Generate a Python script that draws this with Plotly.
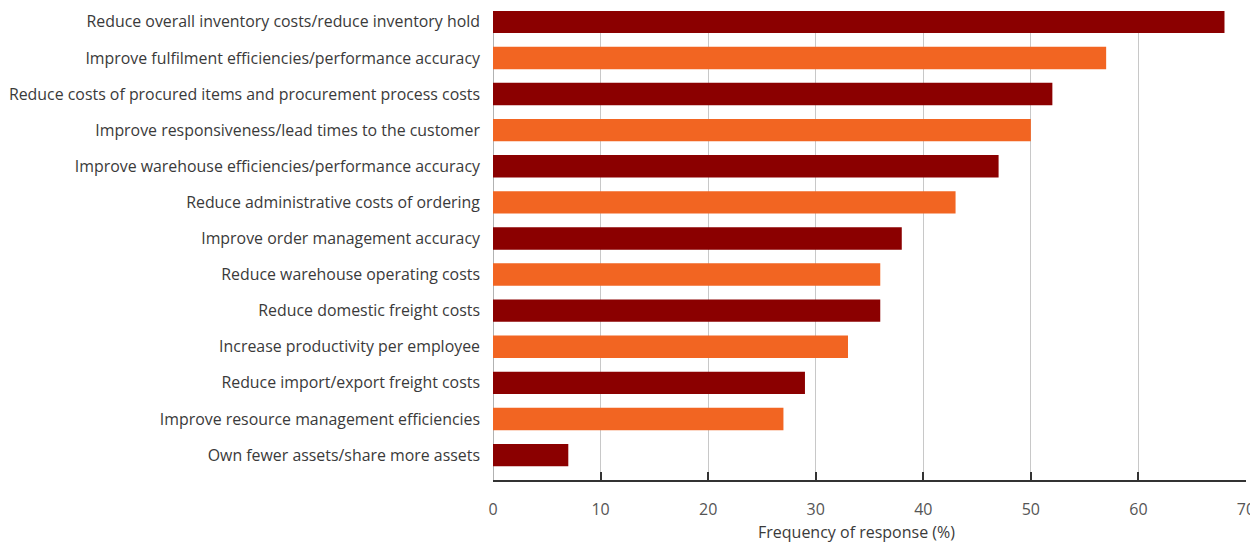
import plotly.graph_objects as go

categories = [
    "Reduce overall inventory costs/reduce inventory hold",
    "Improve fulfilment efficiencies/performance accuracy",
    "Reduce costs of procured items and procurement process costs",
    "Improve responsiveness/lead times to the customer",
    "Improve warehouse efficiencies/performance accuracy",
    "Reduce administrative costs of ordering",
    "Improve order management accuracy",
    "Reduce warehouse operating costs",
    "Reduce domestic freight costs",
    "Increase productivity per employee",
    "Reduce import/export freight costs",
    "Improve resource management efficiencies",
    "Own fewer assets/share more assets",
]
values = [68, 57, 52, 50, 47, 43, 38, 36, 36, 33, 29, 27, 7]
x_ticks = [0, 10, 20, 30, 40, 50, 60, 70]
x_title = "Frequency of response (%)"

DARK = "#8B0000"
ORANGE = "#F26522"
colors = [DARK if i % 2 == 0 else ORANGE for i in range(len(values))]

fig = go.Figure(go.Bar(
    x=values, y=categories, orientation="h",
    marker=dict(color=colors, line=dict(width=0)),
    width=0.62,
))

FONT = "Open Sans"
W, H = 1250, 535
L, R, T, B = 485, 12, 3, 63
fig.update_layout(
    width=W, height=H,
    margin=dict(l=L, r=R, t=T, b=B),
    plot_bgcolor="white", paper_bgcolor="white",
    showlegend=False,
    font=dict(family=FONT, size=16, color="#3a3a3a"),
    xaxis=dict(
        range=[0, 70], tickvals=x_ticks, showgrid=True, gridcolor="#c8c8c8", gridwidth=1,
        zeroline=False, showline=True, linecolor="#333333", linewidth=1.5,
        ticks="inside", ticklen=8, tickcolor="#333333", tickwidth=1.5,
        tickfont=dict(size=16, color="#555555"), ticklabelstandoff=14,
        automargin=False,
    ),
    yaxis=dict(
        type="category", categoryorder="array", categoryarray=categories,
        range=[12.69, -0.30], showgrid=False, zeroline=False,
        showline=False, ticks="", ticklabelstandoff=12,
        tickfont=dict(size=15.9, color="#3a3a3a"), automargin=False,
    ),
    annotations=[dict(
        text=x_title, x=(856 - 493) / (1246 - 493), xref="paper",
        y=-(524 - 472) / (472 - 3), yref="paper", yanchor="middle", xanchor="center",
        showarrow=False, font=dict(size=16, color="#3a3a3a"),
    )],
)
fig.add_shape(type="line", xref="x", yref="paper", x0=0, x1=0, y0=0, y1=1,
              line=dict(color="#999999", width=1.5), layer="below")

fig.write_html("out.html")
